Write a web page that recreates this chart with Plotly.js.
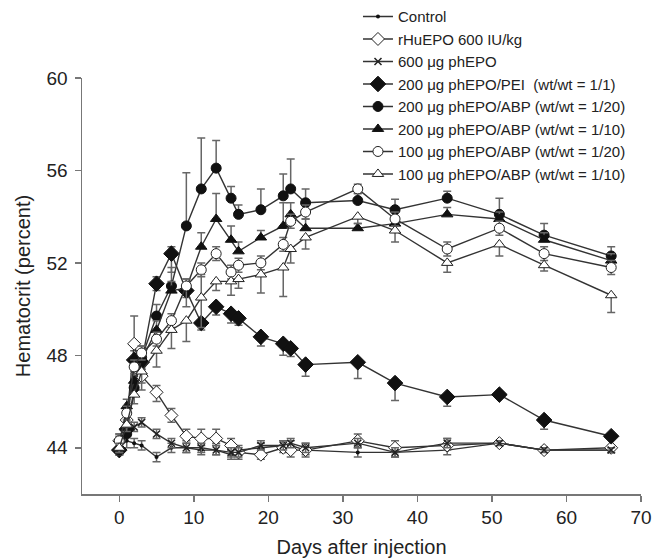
<!DOCTYPE html>
<html>
<head>
<meta charset="utf-8">
<script src="https://cdn.plot.ly/plotly-3.0.1.min.js"></script>
<style>
html,body{margin:0;padding:0;background:#fff;}
#chart{width:653px;height:558px;}
</style>
</head>
<body>
<div id="chart"></div>
<script>
const days = [0,1,2,3,5,7,9,11,13,15,16,19,22,23,25,32,37,44,51,57,66];

const seriesNames = [
  "Control",
  "rHuEPO 600 IU/kg",
  "600 \u03bcg phEPO",
  "200 \u03bcg phEPO/PEI \u00a0(wt/wt = 1/1)",
  "200 \u03bcg phEPO/ABP (wt/wt = 1/20)",
  "200 \u03bcg phEPO/ABP (wt/wt = 1/10)",
  "100 \u03bcg phEPO/ABP (wt/wt = 1/20)",
  "100 \u03bcg phEPO/ABP (wt/wt = 1/10)"
];

const control   = [44.0,44.3,44.2,44.1,43.6,44.0,44.0,43.9,43.9,43.7,43.9,44.0,44.1,44.1,43.9,43.8,43.8,43.9,44.2,43.9,43.9];
const rhuepo    = [44.3,45.2,48.5,47.1,46.4,45.4,44.5,44.4,44.4,44.1,43.8,43.7,44.0,43.9,43.9,44.3,44.0,44.1,44.2,43.9,44.0];
const phepo     = [44.2,44.8,44.9,45.1,44.6,44.2,44.0,44.0,43.9,43.8,43.8,44.1,44.1,44.2,44.0,44.2,43.8,44.2,44.2,43.9,43.9];
const pei       = [43.9,44.8,47.8,47.7,51.1,52.4,50.8,49.4,50.1,49.8,49.6,48.8,48.5,48.3,47.6,47.7,46.8,46.2,46.3,45.2,44.5];
const abp200_20 = [43.9,44.6,46.6,47.9,49.7,51.0,53.6,55.2,56.1,54.8,54.1,54.3,54.9,55.2,54.6,54.7,54.3,54.8,54.1,53.2,52.3];
const abp200_10 = [44.0,45.8,46.9,47.8,49.1,50.8,50.9,52.7,53.9,53.0,52.5,53.1,53.6,54.1,53.5,53.5,53.7,54.1,53.9,53.0,52.1];
const abp100_20 = [44.3,45.5,47.5,48.1,48.7,49.5,51.0,51.7,52.4,51.6,51.9,52.0,52.8,53.8,54.2,55.2,53.9,52.6,53.5,52.4,51.8];
const abp100_10 = [44.0,45.0,46.3,47.3,48.2,49.1,49.5,50.5,51.2,51.2,51.3,51.5,51.8,52.6,53.1,54.0,53.4,52.0,52.8,51.9,50.6];

// error bars (upper / lower)
const controlUp   = [0.3,0.3,0.2,0.2,0.2,0.2,0.2,0.2,0.2,0.2,0.2,0.2,0.2,0.2,0.2,0.2,0.2,0.2,0.1,0.1,0.1];
const controlDn   = [0.3,0.3,0.2,0.2,0.2,0.2,0.2,0.2,0.2,0.2,0.2,0.2,0.2,0.2,0.2,0.2,0.2,0.2,0.1,0.1,0.1];
const rhuepoUp    = [0.3,0.5,1.2,0.3,0.3,0.3,0.3,0.4,0.4,0.3,0.2,0.2,0.3,0.2,0.3,0.3,0.3,0.3,0.1,0.1,0.1];
const rhuepoDn    = [0.3,0.3,0.3,0.6,0.4,0.3,0.2,0.2,0.2,0.2,0.3,0.2,0.2,0.3,0.3,0.2,0.2,0.2,0.1,0.1,0.1];
const phepoUp     = [0.3,0.3,0.2,0.2,0.2,0.2,0.2,0.2,0.2,0.2,0.2,0.2,0.2,0.2,0.2,0.2,0.2,0.2,0.1,0.1,0.1];
const phepoDn     = [0.3,0.3,0.2,0.2,0.2,0.2,0.2,0.2,0.2,0.2,0.2,0.2,0.2,0.2,0.2,0.2,0.2,0.2,0.1,0.1,0.1];
const peiUp       = [0.0,0.0,0.0,0.0,0.3,0.3,0.0,0.0,0.0,0.0,0.0,0.0,0.0,0.0,0.0,0.0,0.0,0.0,0.1,0.0,0.0];
const peiDn       = [0.2,0.3,0.3,0.3,0.3,0.8,0.3,0.3,0.35,0.4,0.3,0.4,0.5,0.35,0.5,0.7,0.75,0.4,0.1,0.4,0.1];
const abp200_20Up = [0.2,0.3,0.5,0.5,0.5,0.8,2.3,2.2,1.2,0.5,0.4,0.9,0.95,1.3,0.6,0.3,0.45,0.3,0.7,0.5,0.4];
const abp200_20Dn = [0.2,0.0,0.0,0.0,0.0,0.0,0.0,0.0,0.0,0.0,0.0,0.0,0.0,0.0,0.0,0.0,0.0,0.0,0.0,0.0,0.0];
const abp200_10Up = [0.2,0.3,0.4,0.4,0.4,0.4,0.4,0.6,1.1,0.6,0.4,0.3,1.0,0.5,0.4,0.2,0.3,0.3,0.3,0.3,0.3];
const abp200_10Dn = [0.2,0.0,0.0,0.0,0.0,0.0,0.0,0.0,0.0,0.0,0.0,0.0,0.0,0.0,0.0,0.0,0.0,0.0,0.0,0.0,0.0];
const abp100_20Up = [0.3,0.3,0.3,0.3,0.3,0.3,0.3,0.3,0.3,0.3,0.3,0.3,0.3,0.3,0.3,0.2,0.3,0.3,0.3,0.3,0.3];
const abp100_20Dn = [0.3,0.3,0.3,0.3,0.3,0.3,0.9,0.3,0.3,0.3,0.3,0.3,0.3,0.3,0.3,0.2,0.3,0.3,0.3,0.3,0.3];
const abp100_10Up = [0.2,0.0,0.0,0.0,0.0,0.0,0.0,1.0,0.0,0.0,0.0,0.0,0.0,0.0,0.0,0.0,0.0,0.0,0.0,0.0,0.0];
const abp100_10Dn = [0.2,0.3,0.4,0.5,0.7,0.8,0.9,1.3,0.4,0.6,0.4,0.8,1.25,0.6,0.5,0.3,0.5,0.4,0.5,0.25,0.75];

const values = [control, rhuepo, phepo, pei, abp200_20, abp200_10, abp100_20, abp100_10];
const ups = [controlUp, rhuepoUp, phepoUp, peiUp, abp200_20Up, abp200_10Up, abp100_20Up, abp100_10Up];
const dns = [controlDn, rhuepoDn, phepoDn, peiDn, abp200_20Dn, abp200_10Dn, abp100_20Dn, abp100_10Dn];

const markers = [
  {symbol:'circle', size:4, color:'#111', line:{width:0}},
  {symbol:'diamond', size:10, color:'#fff', line:{color:'#222', width:1}},
  {symbol:'x-thin', size:7, color:'#222', line:{color:'#222', width:1.5}},
  {symbol:'diamond', size:12, color:'#111', line:{color:'#111', width:1}},
  {symbol:'circle', size:10, color:'#111', line:{color:'#111', width:1}},
  {symbol:'triangle-up', size:10, color:'#111', line:{color:'#111', width:1}},
  {symbol:'circle', size:10, color:'#fff', line:{color:'#222', width:1}},
  {symbol:'triangle-up', size:10, color:'#fff', line:{color:'#222', width:1}}
];

const traces = values.map((v, i) => ({
  type: 'scatter',
  mode: 'lines+markers',
  name: seriesNames[i],
  x: days,
  y: v,
  line: {color: '#333', width: 1.4},
  marker: markers[i],
  error_y: {type: 'data', symmetric: false, array: ups[i], arrayminus: dns[i],
            color: '#666', thickness: 1.5, width: 4}
}));

const layout = {
  width: 653, height: 558,
  margin: {l: 82, r: 12, t: 78, b: 64, autoexpand: false},
  paper_bgcolor: '#fff', plot_bgcolor: '#fff',
  font: {family: 'Liberation Sans, Arial, sans-serif', size: 16, color: '#222'},
  showlegend: true,
  legend: {x: 0.4937, y: 1.187, xanchor: 'left', yanchor: 'top', bgcolor: 'rgba(0,0,0,0)',
           font: {size: 15, color: '#222'}, tracegroupgap: 0},
  xaxis: {
    range: [-5, 70], tickvals: [0,10,20,30,40,50,60,70],
    showline: true, linecolor: '#777', linewidth: 1.5,
    ticks: 'outside', ticklen: 6, tickcolor: '#777', tickwidth: 1.5,
    showgrid: false, zeroline: false,
    tickfont: {size: 19},
    title: {text: 'Days after injection', font: {size: 20}, standoff: 12}
  },
  yaxis: {
    range: [42, 60], tickvals: [44,48,52,56,60],
    showline: true, linecolor: '#777', linewidth: 1.5,
    ticks: 'outside', ticklen: 6, tickcolor: '#777', tickwidth: 1.5,
    showgrid: false, zeroline: false,
    tickfont: {size: 19}, ticklabelstandoff: 3,
    title: {text: 'Hematocrit (percent)', font: {size: 20}, standoff: 10}
  }
};

Plotly.newPlot('chart', traces, layout, {displayModeBar: false, staticPlot: true});
</script>
</body>
</html>
